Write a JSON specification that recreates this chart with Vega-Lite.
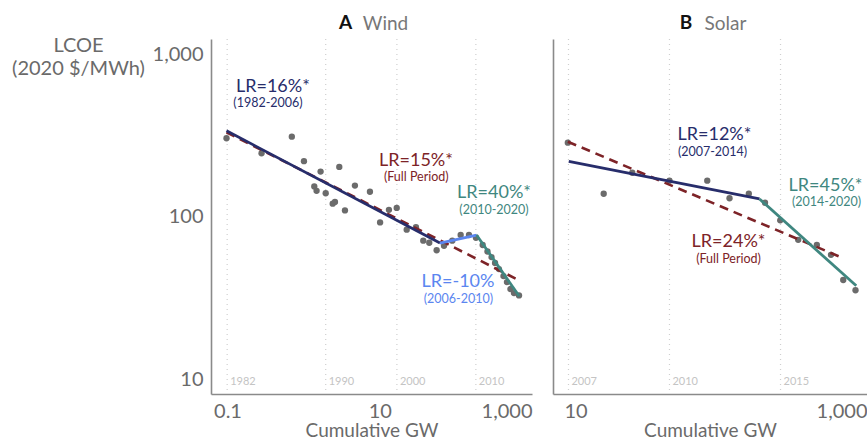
{
  "$schema": "https://vega.github.io/schema/vega-lite/v6.json",
  "padding": {"left": 11, "top": 14, "right": 0, "bottom": 0},
  "spacing": 21,
  "datasets": {
    "windPts": [
      {"gw": 0.097, "lcoe": 303}, {"gw": 0.28, "lcoe": 245}, {"gw": 0.70, "lcoe": 310}, {"gw": 1.01, "lcoe": 219},
      {"gw": 1.38, "lcoe": 153}, {"gw": 1.48, "lcoe": 144}, {"gw": 1.67, "lcoe": 189}, {"gw": 1.95, "lcoe": 139},
      {"gw": 2.41, "lcoe": 120}, {"gw": 2.58, "lcoe": 123}, {"gw": 2.94, "lcoe": 202}, {"gw": 3.49, "lcoe": 109},
      {"gw": 4.72, "lcoe": 155}, {"gw": 7.43, "lcoe": 142}, {"gw": 10.1, "lcoe": 92}, {"gw": 13.2, "lcoe": 110},
      {"gw": 16.7, "lcoe": 113}, {"gw": 22.6, "lcoe": 83}, {"gw": 29.9, "lcoe": 86}, {"gw": 37.3, "lcoe": 71},
      {"gw": 44.7, "lcoe": 69}, {"gw": 55.9, "lcoe": 62}, {"gw": 69.8, "lcoe": 66}, {"gw": 89.7, "lcoe": 71},
      {"gw": 115.6, "lcoe": 77}, {"gw": 148.6, "lcoe": 77}, {"gw": 183.6, "lcoe": 74}, {"gw": 225, "lcoe": 66.8},
      {"gw": 260, "lcoe": 60.9}, {"gw": 294, "lcoe": 56.3}, {"gw": 327, "lcoe": 51.8}, {"gw": 368, "lcoe": 47.5},
      {"gw": 422, "lcoe": 43.0}, {"gw": 469, "lcoe": 39.5}, {"gw": 521, "lcoe": 35.8}, {"gw": 580, "lcoe": 33.8},
      {"gw": 675, "lcoe": 32.7}
    ],
    "solarPts": [
      {"year": 2007, "gw": 8.85, "lcoe": 284.6}, {"year": 2008, "gw": 15.6, "lcoe": 138.1},
      {"year": 2009, "gw": 24.5, "lcoe": 186.0}, {"year": 2010, "gw": 44.1, "lcoe": 166.1},
      {"year": 2011, "gw": 80.1, "lcoe": 166.1}, {"year": 2012, "gw": 113.9, "lcoe": 129.6},
      {"year": 2013, "gw": 154.5, "lcoe": 138.1}, {"year": 2014, "gw": 199.6, "lcoe": 121.6},
      {"year": 2015, "gw": 253.8, "lcoe": 94.8}, {"year": 2016, "gw": 337.3, "lcoe": 71.9},
      {"year": 2017, "gw": 452.6, "lcoe": 66.9}, {"year": 2018, "gw": 566, "lcoe": 58.1},
      {"year": 2019, "gw": 687, "lcoe": 40.7}, {"year": 2020, "gw": 834, "lcoe": 35.2}
    ],
    "windFit": [
      {"seg": "1982-2006", "gw": 0.097, "lcoe": 337}, {"seg": "1982-2006", "gw": 61.8, "lcoe": 68.7},
      {"seg": "2006-2010", "gw": 61.8, "lcoe": 68.7}, {"seg": "2006-2010", "gw": 187, "lcoe": 76.9},
      {"seg": "2010-2020", "gw": 187, "lcoe": 76.9}, {"seg": "2010-2020", "gw": 681, "lcoe": 32.3},
      {"seg": "Full Period", "gw": 0.097, "lcoe": 330}, {"seg": "Full Period", "gw": 629, "lcoe": 41.2}
    ],
    "solarFit": [
      {"seg": "2007-2014", "gw": 8.98, "lcoe": 218.6}, {"seg": "2007-2014", "gw": 183, "lcoe": 128.2},
      {"seg": "2014-2020", "gw": 183, "lcoe": 128.2}, {"seg": "2014-2020", "gw": 844, "lcoe": 37.5},
      {"seg": "Full Period", "gw": 8.85, "lcoe": 288.6}, {"seg": "Full Period", "gw": 690, "lcoe": 55.3}
    ],
    "windNote": [
      {"seg": "1982-2006", "kind": "rate", "label": "LR=16%*", "gw": 0.395, "lcoe": 626.6},
      {"seg": "1982-2006", "kind": "period", "label": "(1982-2006)", "gw": 0.34, "lcoe": 502.9},
      {"seg": "Full Period", "kind": "rate", "label": "LR=15%*", "gw": 29.9, "lcoe": 219.5},
      {"seg": "Full Period", "kind": "period", "label": "(Full Period)", "gw": 30.2, "lcoe": 175},
      {"seg": "2010-2020", "kind": "rate", "label": "LR=40%*", "gw": 316.8, "lcoe": 139.5},
      {"seg": "2010-2020", "kind": "period", "label": "(2010-2020)", "gw": 316.8, "lcoe": 110.4},
      {"seg": "2006-2010", "kind": "rate", "label": "LR=-10%", "gw": 106.6, "lcoe": 39.5},
      {"seg": "2006-2010", "kind": "period", "label": "(2006-2010)", "gw": 108, "lcoe": 31.1}
    ],
    "solarNote": [
      {"seg": "2007-2014", "kind": "rate", "label": "LR=12%*", "gw": 89.8, "lcoe": 317.3},
      {"seg": "2007-2014", "kind": "period", "label": "(2007-2014)", "gw": 87.1, "lcoe": 249.4},
      {"seg": "2014-2020", "kind": "rate", "label": "LR=45%*", "gw": 519.4, "lcoe": 154.1},
      {"seg": "2014-2020", "kind": "period", "label": "(2014-2020)", "gw": 527.6, "lcoe": 123.7},
      {"seg": "Full Period", "kind": "rate", "label": "LR=24%*", "gw": 112.1, "lcoe": 69.7},
      {"seg": "Full Period", "kind": "period", "label": "(Full Period)", "gw": 112.1, "lcoe": 55.1}
    ],
    "windYears": [
      {"year": "1982", "gw": 0.099}, {"year": "1990", "gw": 1.95}, {"year": "2000", "gw": 16.8}, {"year": "2010", "gw": 183}
    ],
    "solarYears": [
      {"year": "2007", "gw": 8.94}, {"year": "2010", "gw": 44.1}, {"year": "2015", "gw": 255}
    ]
  },
  "hconcat": [
    {
      "width": 321,
      "height": 355,
      "title": {"text": "A", "fontWeight": "bold", "color": "#111111", "fontSize": 19, "anchor": "middle", "dx": -26, "baseline": "alphabetic", "offset": 0, "dy": 34},
      "resolve": {"axis": {"x": "independent", "y": "independent"}},
      "layer": [
        {
          "data": {"name": "windYears"},
          "mark": {"type": "rule", "color": "#cfcfcf", "strokeDash": [1, 4], "strokeWidth": 1.2},
          "encoding": {
            "x": {"field": "gw", "type": "quantitative", "scale": {"type": "log", "domain": [0.0607, 1000], "nice": false},
              "axis": {"orient": "bottom", "values": [0.1, 10, 1000], "format": ",", "title": "Cumulative GW", "grid": false, "ticks": false, "tickSize": 0,
                "labelPadding": 7, "labelFlush": 2, "titlePadding": 0, "titleFontSize": 19}}
          }
        },
        {
          "data": {"name": "windPts"},
          "mark": {"type": "circle", "size": 40, "color": "#6b6b6b", "opacity": 1},
          "encoding": {
            "x": {"field": "gw", "type": "quantitative",
              "axis": {"orient": "top", "title": "Wind", "labels": false, "ticks": false, "domain": false, "grid": false, "titlePadding": 6, "titleX": 174, "titleColor": "#777777", "titleFontSize": 19}},
            "y": {"field": "lcoe", "type": "quantitative", "scale": {"type": "log", "domain": [8.09, 1237], "nice": false},
              "axis": {"orient": "left", "values": [10, 100, 1000], "format": ",", "grid": false, "ticks": false, "tickSize": 0, "labelPadding": 8,
                "title": ["LCOE", "(2020 $/MWh)"], "titleAngle": 0, "titleAlign": "center", "titleBaseline": "top", "titleX": -133, "titleY": -4, "titleLineHeight": 23}}
          }
        },
        {
          "data": {"name": "windYears"},
          "mark": {"type": "text", "align": "left", "dx": 3, "baseline": "middle", "fontSize": 11, "color": "#c4c4c4"},
          "encoding": {
            "x": {"field": "gw", "type": "quantitative", "axis": null},
            "y": {"datum": 9.6, "type": "quantitative", "axis": null},
            "text": {"field": "year"}
          }
        },
        {
          "data": {"name": "windFit"},
          "transform": [{"filter": "datum.seg === 'Full Period'"}],
          "mark": {"type": "line", "strokeWidth": 2.6, "strokeDash": [9, 6]},
          "encoding": {
            "x": {"field": "gw", "type": "quantitative", "axis": null},
            "y": {"field": "lcoe", "type": "quantitative", "axis": null},
            "color": {"field": "seg", "type": "nominal", "legend": null,
              "scale": {"domain": ["1982-2006", "2006-2010", "2010-2020", "Full Period", "2007-2014", "2014-2020"], "range": ["#272d6b", "#5b86f0", "#3f8780", "#7d2327", "#272d6b", "#3f8780"]}}
          }
        },
        {
          "data": {"name": "windFit"},
          "transform": [{"filter": "datum.seg !== 'Full Period'"}],
          "mark": {"type": "line", "strokeWidth": 2.8},
          "encoding": {
            "x": {"field": "gw", "type": "quantitative", "axis": null},
            "y": {"field": "lcoe", "type": "quantitative", "axis": null},
            "color": {"field": "seg", "type": "nominal", "legend": null}
          }
        },
        {
          "data": {"name": "windNote"},
          "transform": [{"filter": "datum.kind === 'rate'"}],
          "mark": {"type": "text", "fontSize": 18, "align": "center", "baseline": "middle"},
          "encoding": {
            "x": {"field": "gw", "type": "quantitative", "axis": null},
            "y": {"field": "lcoe", "type": "quantitative", "axis": null},
            "text": {"field": "label"},
            "color": {"field": "seg", "type": "nominal", "legend": null}
          }
        },
        {
          "data": {"name": "windNote"},
          "transform": [{"filter": "datum.kind === 'period'"}],
          "mark": {"type": "text", "fontSize": 12.5, "align": "center", "baseline": "middle"},
          "encoding": {
            "x": {"field": "gw", "type": "quantitative", "axis": null},
            "y": {"field": "lcoe", "type": "quantitative", "axis": null},
            "text": {"field": "label"},
            "color": {"field": "seg", "type": "nominal", "legend": null}
          }
        }
      ]
    },
    {
      "width": 314,
      "height": 355,
      "title": {"text": "B", "fontWeight": "bold", "color": "#111111", "fontSize": 19, "anchor": "middle", "dx": -24, "baseline": "alphabetic", "offset": 0, "dy": 34},
      "resolve": {"axis": {"x": "independent", "y": "independent"}},
      "layer": [
        {
          "data": {"name": "solarYears"},
          "mark": {"type": "rule", "color": "#cfcfcf", "strokeDash": [1, 4], "strokeWidth": 1.2},
          "encoding": {
            "x": {"field": "gw", "type": "quantitative", "scale": {"type": "log", "domain": [7, 1000], "nice": false},
              "axis": {"orient": "bottom", "values": [10, 1000], "format": ",", "title": "Cumulative GW", "grid": false, "ticks": false, "tickSize": 0,
                "labelPadding": 7, "labelFlush": 2, "titlePadding": 0, "titleFontSize": 19}}
          }
        },
        {
          "data": {"name": "solarPts"},
          "mark": {"type": "circle", "size": 40, "color": "#6b6b6b", "opacity": 1},
          "encoding": {
            "x": {"field": "gw", "type": "quantitative",
              "axis": {"orient": "top", "title": "Solar", "labels": false, "ticks": false, "domain": false, "grid": false, "titlePadding": 6, "titleX": 172, "titleColor": "#777777", "titleFontSize": 19}},
            "y": {"field": "lcoe", "type": "quantitative", "scale": {"type": "log", "domain": [8.09, 1237], "nice": false},
              "axis": {"orient": "left", "labels": false, "ticks": false, "tickSize": 0, "grid": false, "title": null}}
          }
        },
        {
          "data": {"name": "solarYears"},
          "mark": {"type": "text", "align": "left", "dx": 3, "baseline": "middle", "fontSize": 11, "color": "#c4c4c4"},
          "encoding": {
            "x": {"field": "gw", "type": "quantitative", "axis": null},
            "y": {"datum": 9.6, "type": "quantitative", "axis": null},
            "text": {"field": "year"}
          }
        },
        {
          "data": {"name": "solarFit"},
          "transform": [{"filter": "datum.seg === 'Full Period'"}],
          "mark": {"type": "line", "strokeWidth": 2.6, "strokeDash": [9, 6]},
          "encoding": {
            "x": {"field": "gw", "type": "quantitative", "axis": null},
            "y": {"field": "lcoe", "type": "quantitative", "axis": null},
            "color": {"field": "seg", "type": "nominal", "legend": null}
          }
        },
        {
          "data": {"name": "solarFit"},
          "transform": [{"filter": "datum.seg !== 'Full Period'"}],
          "mark": {"type": "line", "strokeWidth": 2.8},
          "encoding": {
            "x": {"field": "gw", "type": "quantitative", "axis": null},
            "y": {"field": "lcoe", "type": "quantitative", "axis": null},
            "color": {"field": "seg", "type": "nominal", "legend": null}
          }
        },
        {
          "data": {"name": "solarNote"},
          "transform": [{"filter": "datum.kind === 'rate'"}],
          "mark": {"type": "text", "fontSize": 18, "align": "center", "baseline": "middle"},
          "encoding": {
            "x": {"field": "gw", "type": "quantitative", "axis": null},
            "y": {"field": "lcoe", "type": "quantitative", "axis": null},
            "text": {"field": "label"},
            "color": {"field": "seg", "type": "nominal", "legend": null}
          }
        },
        {
          "data": {"name": "solarNote"},
          "transform": [{"filter": "datum.kind === 'period'"}],
          "mark": {"type": "text", "fontSize": 12.5, "align": "center", "baseline": "middle"},
          "encoding": {
            "x": {"field": "gw", "type": "quantitative", "axis": null},
            "y": {"field": "lcoe", "type": "quantitative", "axis": null},
            "text": {"field": "label"},
            "color": {"field": "seg", "type": "nominal", "legend": null}
          }
        }
      ]
    }
  ],
  "config": {
    "font": "Lato",
    "view": {"stroke": null},
    "title": {"font": "Lato"},
    "axis": {
      "domainColor": "#8a8a8a",
      "domainWidth": 1.6,
      "labelColor": "#6a6a6a",
      "labelFontSize": 20,
      "labelFont": "Lato",
      "titleColor": "#6a6a6a",
      "titleFontSize": 20,
      "titleFont": "Lato",
      "titleFontWeight": "normal"
    }
  }
}
